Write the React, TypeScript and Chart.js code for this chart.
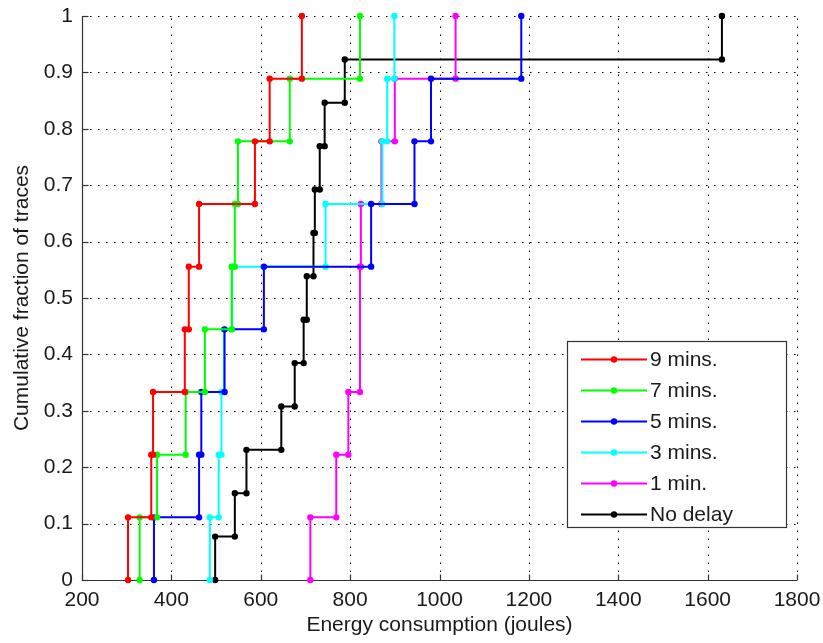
import { useEffect, useRef } from "react";
import { Chart, registerables } from "chart.js";

Chart.register(...registerables);

// ---- data ----
const seriesLabels = ["9 mins.", "7 mins.", "5 mins.", "3 mins.", "1 min.", "No delay"];
const seriesColors = ["#ff0000", "#00ff00", "#0000ff", "#00ffff", "#ff00ff", "#000000"];

const nineMins = [303, 355, 359, 430, 439, 462, 587, 620, 692];
const sevenMins = [329, 368, 432, 475, 535, 542, 549, 665, 822];
const fiveMins = [361, 462, 467, 519, 607, 847, 944, 981, 1183];
const threeMins = [486, 506, 512, 518, 536, 745, 872, 883, 899];
const oneMin = [711, 769, 796, 822, 822, 824, 870, 900, 1036];
const noDelay = [498, 542, 568, 646, 676, 696, 703, 718, 721, 732, 743, 788, 1632];

const xTicks = [200, 400, 600, 800, 1000, 1200, 1400, 1600, 1800];
const xTickLabels = ["200", "400", "600", "800", "1000", "1200", "1400", "1600", "1800"];
const yTicks = [0, 0.1, 0.2, 0.3, 0.4, 0.5, 0.6, 0.7, 0.8, 0.9, 1];
const yTickLabels = ["0", "0.1", "0.2", "0.3", "0.4", "0.5", "0.6", "0.7", "0.8", "0.9", "1"];

const xTitle = "Energy consumption (joules)";
const yTitle = "Cumulative fraction of traces";

// empirical CDF drawn as stairs: vertices at both ends of every jump
function ecdfVertices(values: number[]) {
  const sorted = [...values].sort((a, b) => a - b);
  const n = sorted.length;
  const pts: { x: number; y: number }[] = [];
  let i = 0;
  while (i < n) {
    let j = i;
    while (j < n && sorted[j] === sorted[i]) j++;
    pts.push({ x: sorted[i], y: i / n }, { x: sorted[i], y: j / n });
    i = j;
  }
  return pts;
}

const FONT = "'Liberation Sans', Arial, sans-serif";
const TEXT_COLOR = "#1a1a1a";
const AXIS_COLOR = "#333333";

const axesPlugin = {
  id: "matlabAxes",
  beforeDatasetsDraw(chart: any) {
    const { ctx, chartArea } = chart;
    const xs = chart.scales.x;
    const ys = chart.scales.y;
    ctx.save();
    // dotted grid
    ctx.strokeStyle = "#000000";
    ctx.lineWidth = 1;
    ctx.setLineDash([1.5, 6.5]);
    xTicks.forEach((v) => {
      const px = Math.round(xs.getPixelForValue(v)) + 0.5;
      ctx.beginPath();
      ctx.moveTo(px, chartArea.bottom);
      ctx.lineTo(px, chartArea.top);
      ctx.stroke();
    });
    yTicks.forEach((v) => {
      const py = Math.round(ys.getPixelForValue(v)) + 0.5;
      ctx.beginPath();
      ctx.moveTo(chartArea.left, py);
      ctx.lineTo(chartArea.right, py);
      ctx.stroke();
    });
    ctx.setLineDash([]);
    // solid left & bottom axes
    ctx.strokeStyle = AXIS_COLOR;
    ctx.lineWidth = 1.2;
    const l = Math.round(chartArea.left) + 0.5;
    const b = Math.round(chartArea.bottom) + 0.5;
    ctx.beginPath();
    ctx.moveTo(l, Math.round(chartArea.top));
    ctx.lineTo(l, b);
    ctx.lineTo(Math.round(chartArea.right), b);
    ctx.stroke();
    // inward ticks
    const tl = 6;
    xTicks.forEach((v) => {
      const px = Math.round(xs.getPixelForValue(v)) + 0.5;
      ctx.beginPath();
      ctx.moveTo(px, b);
      ctx.lineTo(px, b - tl);
      ctx.stroke();
    });
    yTicks.forEach((v) => {
      const py = Math.round(ys.getPixelForValue(v)) + 0.5;
      ctx.beginPath();
      ctx.moveTo(l, py);
      ctx.lineTo(l + tl, py);
      ctx.stroke();
    });
    ctx.restore();
  },
};

const legendPlugin = {
  id: "matlabLegend",
  afterDraw(chart: any) {
    const { ctx } = chart;
    const lx = 567;
    const ly = 341;
    const lw = 219;
    const lh = 186;
    ctx.save();
    ctx.fillStyle = "#ffffff";
    ctx.fillRect(lx, ly, lw, lh);
    ctx.strokeStyle = AXIS_COLOR;
    ctx.lineWidth = 1.2;
    ctx.strokeRect(lx + 0.5, ly + 0.5, lw, lh);
    chart.data.datasets.forEach((ds: any, i: number) => {
      const cy = 359.5 + i * 31;
      ctx.strokeStyle = ds.borderColor;
      ctx.lineWidth = 2;
      ctx.beginPath();
      ctx.moveTo(581, cy);
      ctx.lineTo(647, cy);
      ctx.stroke();
      ctx.fillStyle = ds.borderColor;
      ctx.beginPath();
      ctx.arc(614, cy, 3.2, 0, Math.PI * 2);
      ctx.fill();
      ctx.fillStyle = TEXT_COLOR;
      ctx.font = `21px ${FONT}`;
      ctx.textAlign = "left";
      ctx.textBaseline = "middle";
      ctx.fillText(ds.label, 650, cy + 1);
    });
    ctx.restore();
  },
};

export default function App() {
  const canvasRef = useRef<HTMLCanvasElement | null>(null);

  useEffect(() => {
    if (!canvasRef.current) return;
    const allSeries = [nineMins, sevenMins, fiveMins, threeMins, oneMin, noDelay];
    const datasets = allSeries.map((vals, i) => ({
      label: seriesLabels[i],
      data: ecdfVertices(vals),
      borderColor: seriesColors[i],
      backgroundColor: seriesColors[i],
      borderWidth: 2,
      pointRadius: 3.2,
      pointHoverRadius: 3.2,
      pointStyle: "circle",
      pointBorderWidth: 0,
      pointBackgroundColor: seriesColors[i],
      showLine: true,
      tension: 0,
      fill: false,
      clip: false,
    }));

    const chart = new Chart(canvasRef.current, {
      type: "line",
      data: { datasets },
      options: {
        animation: false,
        responsive: true,
        maintainAspectRatio: false,
        parsing: false,
        layout: { padding: { left: 0, right: 26, top: 16, bottom: 0 } },
        plugins: {
          legend: { display: false },
          tooltip: { enabled: false },
        },
        scales: {
          x: {
            type: "linear",
            min: 200,
            max: 1800,
            afterBuildTicks: (s: any) => {
              s.ticks = xTicks.map((v) => ({ value: v }));
            },
            afterFit: (s: any) => {
              s.height = 63;
              s.paddingLeft = 0;
              s.paddingRight = 0;
              s.paddingTop = 0;
              s.paddingBottom = 0;
            },
            grid: { display: false, drawTicks: false },
            border: { display: false },
            ticks: {
              autoSkip: false,
              maxRotation: 0,
              padding: 8,
              color: TEXT_COLOR,
              font: { family: FONT, size: 21 },
              callback: (_v: any, idx: number) => xTickLabels[idx],
            },
            title: {
              display: true,
              text: xTitle,
              color: TEXT_COLOR,
              font: { family: FONT, size: 21 },
              padding: { top: 0, bottom: 5 },
            },
          },
          y: {
            type: "linear",
            min: 0,
            max: 1,
            afterBuildTicks: (s: any) => {
              s.ticks = yTicks.map((v) => ({ value: v }));
            },
            afterFit: (s: any) => {
              s.width = 82;
              s.paddingLeft = 0;
              s.paddingRight = 0;
              s.paddingTop = 0;
              s.paddingBottom = 0;
            },
            grid: { display: false, drawTicks: false },
            border: { display: false },
            ticks: {
              autoSkip: false,
              padding: 9,
              color: TEXT_COLOR,
              font: { family: FONT, size: 21 },
              callback: (_v: any, idx: number) => yTickLabels[idx],
            },
            title: {
              display: true,
              text: yTitle,
              color: TEXT_COLOR,
              font: { family: FONT, size: 21 },
              padding: { top: 10, bottom: 0 },
            },
          },
        },
      },
      plugins: [axesPlugin, legendPlugin],
    } as any);

    return () => chart.destroy();
  }, []);

  return (
    <div style={{ position: "absolute", left: 0, top: 0, width: 823, height: 643, background: "#fff" }}>
      <canvas ref={canvasRef} style={{ display: "block" }} />
    </div>
  );
}
